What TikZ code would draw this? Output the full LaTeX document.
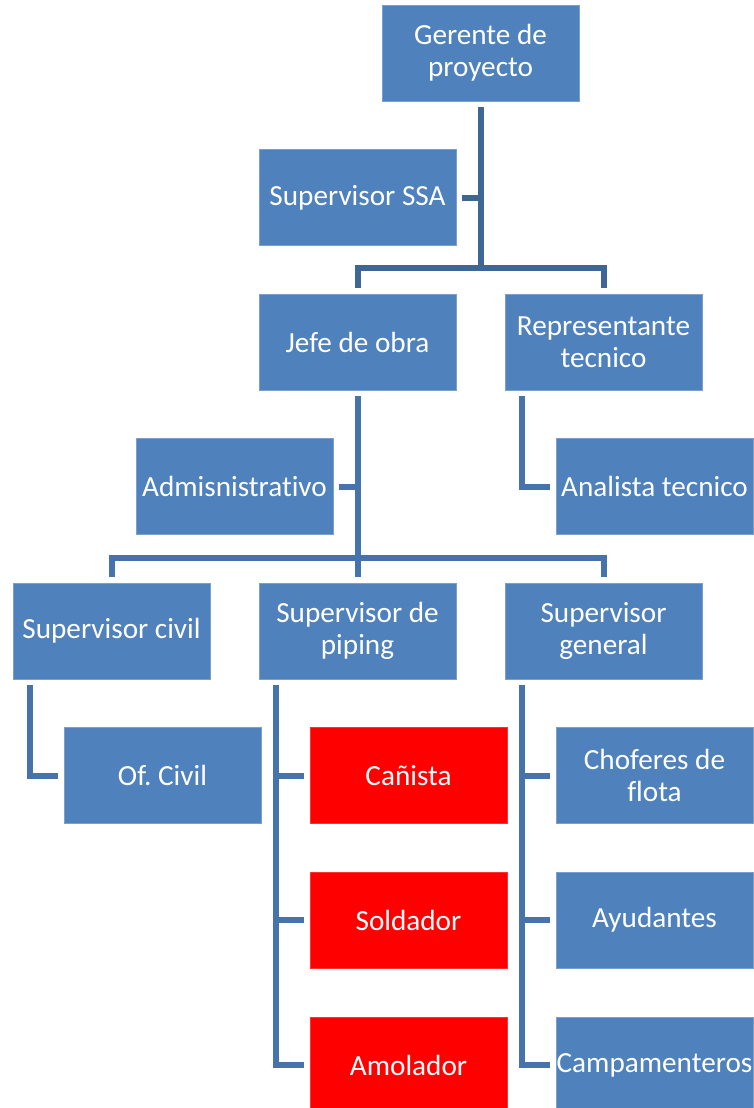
\documentclass[tikz,border=0pt]{standalone}
\usepackage{fontspec}
\setmainfont[Ligatures=NoCommon]{Carlito}
\frenchspacing
\usepackage{tikz}
\definecolor{boxblue}{HTML}{4F81BD}
\definecolor{boxred}{HTML}{FF0000}
\definecolor{linedark}{HTML}{3F6796}
\definecolor{lineblue}{HTML}{4773AD}
\tikzset{node distance=246pt, auto,
  cargo/.style={rectangle, fill=boxblue, draw=boxblue!75!white, line width=0.8pt,
    minimum width=197pt, minimum height=96pt, inner sep=0pt, align=center,
    text=white, font=\fontsize{29.2}{32}\selectfont},
  cargorojo/.style={cargo, fill=boxred, draw=boxred!80!white},
  conn/.style={draw=lineblue, line width=6pt, shorten <=6pt, shorten >=6pt}}

\begin{document}
\begin{tikzpicture}[x=1pt, y=-1pt]
                \useasboundingbox (0,0) rectangle (754,1108);
                \node[cargo] (ger) at (480.5,53)  {Gerente de\\proyecto};
                \node[cargo] (ssa) at (357.5,197.5) {Supervisor SSA};
                \node[cargo] (jefe) at (357.5,342) {Jefe de obra};
                \node[cargo] (rep) [right of=jefe] {Representante\\tecnico};
                \node[cargo] (adm) at (234.5,486.5) {Admisnistrativo};
                \node[cargo] (ana) at (654.5,486.5) {Analista tecnico};
                \node[cargo] (sciv) at (111.5,631) {Supervisor civil};
                \node[cargo] (spip) [right of=sciv] {Supervisor de\\piping};
                \node[cargo] (sgen) [right of=spip] {Supervisor\\general};
                \node[cargo] (ofc) at (162.5,775.5) {Of. Civil};
                \node[cargorojo] (can) [right of=ofc] {Cañista};
                \node[cargo] (cho) [right of=can] {Choferes de\\flota};
                \node[cargorojo] (sol) at (408.5,920) {Soldador};
                \node[cargo] (ayu) [right of=sol] {Ayudantes};
                \node[cargorojo] (amo) at (408.5,1065) {Amolador};
                \node[cargo] (cam) [right of=amo] {Campamenteros};

                % gerente
                \draw[conn, draw=linedark, shorten >=0pt] (ger.south) -- ++(0,167) coordinate (b1);
                \draw[conn, draw=linedark, shorten >=0pt] (ssa.east) -- (ssa.east -| b1);
                \draw[conn, draw=linedark] (jefe.north) |- (b1) -| (rep.north);
                % jefe de obra
                \draw[conn, shorten >=0pt] (jefe.south) -- ++(0,168) coordinate (b2);
                \draw[conn, shorten >=0pt] (adm.east) -- (adm.east -| b2);
                \draw[conn] (sciv.north) |- (b2) -| (sgen.north);
                \draw[conn, shorten <=0pt] (b2) -- (spip.north);
                % ramas laterales
                \draw[conn] ([xshift=17pt]rep.south west) |- (ana.west);
                \draw[conn] ([xshift=17pt]sciv.south west) |- (ofc.west);
                \draw[conn] ([xshift=17pt]spip.south west) |- (amo.west);
                \draw[conn] ([xshift=17pt]sgen.south west) |- (cam.west);
                \foreach \n/\s in {can/spip, sol/spip, cho/sgen, ayu/sgen}
                  \draw[conn, shorten <=0pt] ([xshift=14pt]\n.west -| \s.south west) -- (\n.west);
              \end{tikzpicture}
\end{document}
